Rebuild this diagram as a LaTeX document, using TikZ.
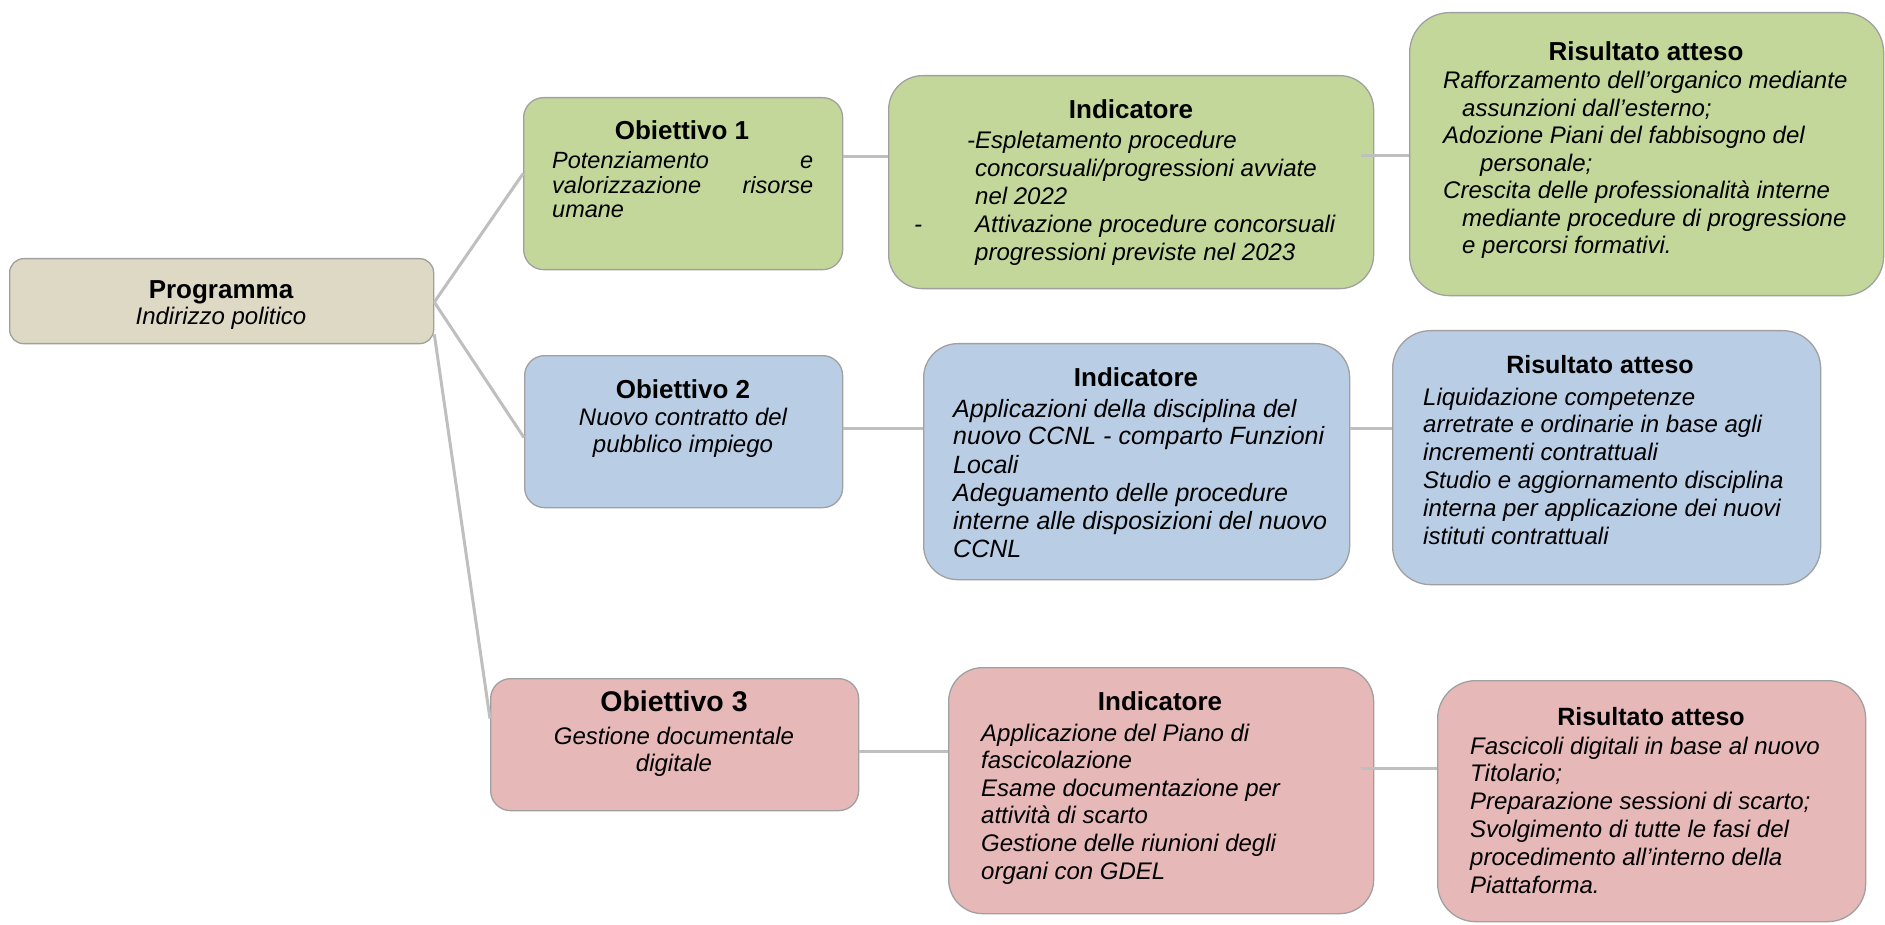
\documentclass[tikz,border=0pt]{standalone}
\usepackage{fontspec}
\setmainfont{Liberation Sans}
\definecolor{gfill}{RGB}{196,215,155}
\definecolor{bfill}{RGB}{185,205,228}
\definecolor{rfill}{RGB}{230,185,184}
\definecolor{pfill}{RGB}{221,217,196}
\definecolor{bordc}{RGB}{160,160,160}
\definecolor{connc}{RGB}{191,191,191}
\newcommand{\bodyfont}[2]{\fontsize{#1}{#2}\selectfont\itshape}
\begin{document}
\begin{tikzpicture}[x=1pt,y=-1pt,
  box/.style={draw=bordc, line width=1.3pt, inner sep=0pt, anchor=north west},
  ttl/.style={font=\fontsize{26}{30}\selectfont\bfseries, anchor=base, inner sep=0pt},
  txt/.style={anchor=base west, inner sep=0pt},
  txtc/.style={anchor=base, inner sep=0pt},
  conn/.style={draw=connc, line width=3pt}
]
\useasboundingbox (0,0) rectangle (1885,925);

% boxes
\node[box, fill=pfill, rounded corners=14pt, minimum width=424pt, minimum height=85pt] (prog) at (9,258) {};
\node[box, fill=gfill, rounded corners=20pt, minimum width=319pt, minimum height=172pt] (o1) at (523,97) {};
\node[box, fill=gfill, rounded corners=34pt, minimum width=485pt, minimum height=213pt] (i1) at (888,75) {};
\node[box, fill=gfill, rounded corners=40pt, minimum width=474pt, minimum height=283pt] (r1) at (1409,12) {};
\node[box, fill=bfill, rounded corners=20pt, minimum width=318pt, minimum height=152pt] (o2) at (524,355) {};
\node[box, fill=bfill, rounded corners=34pt, minimum width=426pt, minimum height=236pt] (i2) at (923,343) {};
\node[box, fill=bfill, rounded corners=38pt, minimum width=428pt, minimum height=254pt] (r2) at (1392,330) {};
\node[box, fill=rfill, rounded corners=20pt, minimum width=368pt, minimum height=132pt] (o3) at (490,678) {};
\node[box, fill=rfill, rounded corners=34pt, minimum width=425pt, minimum height=246pt] (i3) at (948,667) {};
\node[box, fill=rfill, rounded corners=38pt, minimum width=428pt, minimum height=241pt] (r3) at (1437,680) {};

% connectors
\coordinate (pa) at ([yshift=-1pt]prog.east);
\coordinate (pb) at ([yshift=10pt]prog.south east);
\draw[conn] (pa) -- ([yshift=10pt]o1.west);
\draw[conn] (pa) -- ([yshift=-6pt]o2.west);
\draw[conn] (pb) -- ([yshift=26pt]o3.west);
\draw[conn] (o1.east |- 0,157) -- (i1.west |- 0,157);
\draw[conn] ([xshift=-13pt]i1.east |- 0,156) -- (r1.west |- 0,156);
\draw[conn] (o2.east |- 0,428) -- (i2.west |- 0,428);
\draw[conn] (i2.east |- 0,428) -- (r2.west |- 0,428);
\draw[conn] (o3.east |- 0,751) -- (i3.west |- 0,751);
\draw[conn] ([xshift=-13pt]i3.east |- 0,768) -- (r3.west |- 0,768);

% Programma
\node[ttl] (progT) at (221,299) {Programma};
\node[txtc, font=\bodyfont{24}{27}] (progB) at (221,325) {Indirizzo politico};

% Obiettivo 1
\node[ttl] (o1T) at (682,140) {Obiettivo 1};
\node[txt, font=\bodyfont{23.5}{24.5}] (o1B) at (552,169) {\begin{tabular}[t]{@{}l@{}}\makebox[261pt][l]{Potenziamento\hfill e}\\\makebox[261pt][l]{valorizzazione\hfill risorse}\\umane\end{tabular}};

% Indicatore 1
\node[ttl] (i1T) at (1131,119) {Indicatore};
\node[txt, font=\bodyfont{24}{28}] (i1B) at (975,149) {\begin{tabular}[t]{@{}l@{}}\llap{-}Espletamento procedure\\concorsuali/progressioni avviate\\nel 2022\\\llap{-\hspace{53pt}}Attivazione procedure concorsuali\\progressioni previste nel 2023\end{tabular}};

% Risultato 1
\node[ttl] (r1T) at (1646,61) {Risultato atteso};
\node[txt, font=\bodyfont{24}{27.5}] (r1B) at (1443,89) {\begin{tabular}[t]{@{}l@{}}Rafforzamento dell’organico mediante\\\hspace{19pt}assunzioni dall’esterno;\\Adozione Piani del fabbisogno del\\\hspace{37pt}personale;\\Crescita delle professionalità interne\\\hspace{19pt}mediante procedure di progressione\\\hspace{19pt}e percorsi formativi.\end{tabular}};

% Obiettivo 2
\node[ttl] (o2T) at (683,398) {Obiettivo 2};
\node[txtc, font=\bodyfont{24}{27}] (o2B) at (683,425) {\begin{tabular}[t]{@{}c@{}}Nuovo contratto del\\pubblico impiego\end{tabular}};

% Indicatore 2
\node[ttl] (i2T) at (1136,386) {Indicatore};
\node[txt, font=\bodyfont{25}{28}] (i2B) at (953,417) {\begin{tabular}[t]{@{}l@{}}Applicazioni della disciplina del\\nuovo CCNL - comparto Funzioni\\Locali\\Adeguamento delle procedure\\interne alle disposizioni del nuovo\\CCNL\end{tabular}};

% Risultato 2
\node[ttl, font=\fontsize{25}{29}\selectfont\bfseries] (r2T) at (1600,373) {Risultato atteso};
\node[txt, font=\bodyfont{24}{27.8}] (r2B) at (1423,405) {\begin{tabular}[t]{@{}l@{}}Liquidazione competenze\\arretrate e ordinarie in base agli\\incrementi contrattuali\\Studio e aggiornamento disciplina\\interna per applicazione dei nuovi\\istituti contrattuali\end{tabular}};

% Obiettivo 3
\node[ttl, font=\fontsize{28.5}{32}\selectfont\bfseries] (o3T) at (674,711) {Obiettivo 3};
\node[txtc, font=\bodyfont{24}{27}] (o3B) at (674,744) {\begin{tabular}[t]{@{}c@{}}Gestione documentale\\digitale\end{tabular}};

% Indicatore 3
\node[ttl] (i3T) at (1160,710) {Indicatore};
\node[txt, font=\bodyfont{24}{27.6}] (i3B) at (981,741) {\begin{tabular}[t]{@{}l@{}}Applicazione del Piano di\\fascicolazione\\Esame documentazione per\\attività di scarto\\Gestione delle riunioni degli\\organi con GDEL\end{tabular}};

% Risultato 3
\node[ttl, font=\fontsize{25}{29}\selectfont\bfseries] (r3T) at (1651,725) {Risultato atteso};
\node[txt, font=\bodyfont{24}{27.8}] (r3B) at (1470,754) {\begin{tabular}[t]{@{}l@{}}Fascicoli digitali in base al nuovo\\Titolario;\\Preparazione sessioni di scarto;\\Svolgimento di tutte le fasi del\\procedimento all’interno della\\Piattaforma.\end{tabular}};
\end{tikzpicture}
\end{document}
